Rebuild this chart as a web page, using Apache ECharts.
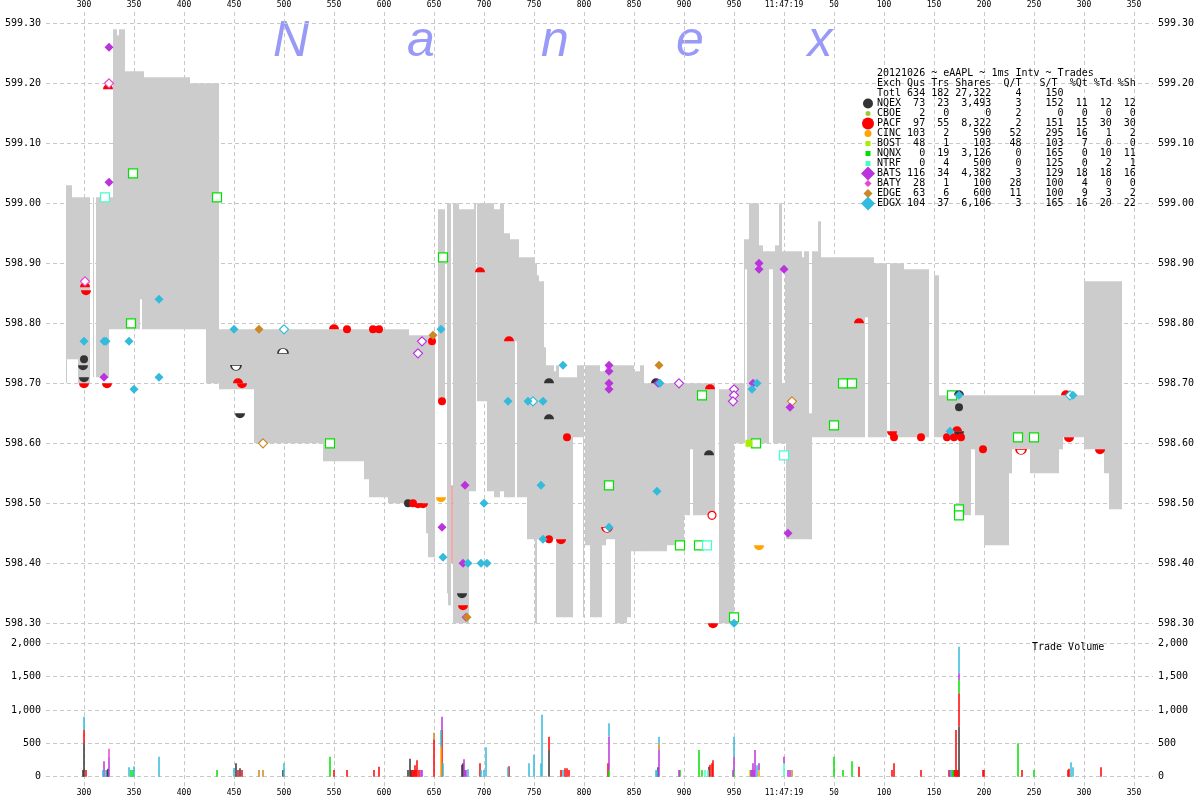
<!DOCTYPE html>
<html><head><meta charset="utf-8">
<script src="https://cdn.jsdelivr.net/npm/echarts@6/dist/echarts.min.js"></script>
<style>html,body{margin:0;padding:0;background:#fff}#c{width:1200px;height:800px}</style>
</head><body><div id="c"></div>
<script>
// ---------- NBBO spread band (ms, price) ----------
const bandStart = [282,283,288,294,309,312,325,329,333,335,341,356,358,360,406,422,435,470,539,580,585,604,625,642,644,654,663,664,669,675,685,690,693,703,710,716,720,726,731,733,735,743,751,753,755,760,762,770,772,775,789,793,799,801,806,816,818,822,831,843,847,850,856,860,883,900,906,909,935,950,960,961,963,965,975,979,985,989,991,995,998,998,1001,1002,1018,1020,1025,1028,1034,1037,1081,1084,1090,1106,1120,1150,1155,1175,1187,1191,1200,1225,1228,1246,1275,1279,1300,1320,1325];
const bandEnd   = [283,288,294,306,310,325,329,333,335,341,356,358,360,406,422,435,470,539,580,585,604,625,642,644,651,661,664,667,675,685,690,692,703,710,716,720,726,731,733,735,743,751,753,755,760,762,770,772,775,789,793,799,800,806,816,818,822,831,843,847,850,856,860,883,900,906,909,931,950,960,961,963,965,975,979,985,989,991,995,998,1001,1001,1002,1018,1020,1025,1028,1034,1037,1081,1084,1090,1103,1120,1145,1155,1175,1187,1191,1200,1225,1228,1246,1275,1279,1300,1320,1325,1338];
const bandLow   = [598.70,598.74,598.74,598.70,598.71,598.71,598.79,598.79,598.79,598.79,598.79,598.84,598.79,598.79,598.79,598.70,598.69,598.60,598.57,598.54,598.51,598.50,598.50,598.45,598.41,598.67,598.35,598.33,598.30,598.30,598.52,598.52,598.67,598.52,598.51,598.52,598.51,598.51,598.77,598.51,598.51,598.44,598.30,598.44,598.44,598.44,598.44,598.44,598.31,598.31,598.61,598.61,598.31,598.43,598.31,598.31,598.43,598.44,598.30,598.31,598.42,598.42,598.42,598.42,598.43,598.48,598.59,598.48,598.30,598.60,598.60,598.89,598.60,598.60,598.60,598.60,598.89,598.60,598.60,598.60,598.89,598.60,598.60,598.44,598.44,598.44,598.44,598.61,598.61,598.61,598.81,598.61,598.61,598.61,598.61,598.61,598.61,598.48,598.59,598.48,598.43,598.55,598.59,598.55,598.59,598.61,598.59,598.55,598.49];
const bandHigh  = [599.03,599.03,599.01,599.01,599.01,599.01,599.01,599.29,599.28,599.29,599.22,599.22,599.22,599.21,599.20,599.20,598.79,598.79,598.79,598.79,598.79,598.79,598.78,598.78,598.78,598.99,599.00,599.00,599.00,598.99,598.99,599.00,599.00,599.00,598.99,599.00,598.95,598.94,598.94,598.94,598.91,598.91,598.90,598.88,598.87,598.76,598.73,598.72,598.73,598.71,598.71,598.73,598.73,598.73,598.73,598.72,598.72,598.73,598.73,598.73,598.73,598.72,598.73,598.70,598.70,598.70,598.70,598.70,598.69,598.70,598.94,598.94,598.94,599.00,598.93,598.92,598.92,598.92,598.93,599.00,598.92,598.70,598.92,598.92,598.91,598.92,598.65,598.92,598.97,598.91,598.91,598.91,598.90,598.90,598.89,598.88,598.68,598.68,598.68,598.68,598.68,598.68,598.68,598.68,598.68,598.68,598.87,598.87,598.87];

// ---------- quotes & trades (ms, price) ----------
const nqexTrade = [[300,598.74],[624,598.50],[1175,598.66]];
const nqexAsk = [[765,598.70],[765,598.64],[872,598.70],[925,598.58],[1175,598.68]];
const nqexBid = [[299,598.73],[300,598.71],[456,598.65],[678,598.35],[1175,598.62]];
const nqexAskHollow = [[499,598.75]];
const nqexBidHollow = [[452,598.73]];
const cincBid = [[657,598.51],[975,598.43]];
const pacfTrade = [[563,598.79],[589,598.79],[595,598.79],[629,598.50],[648,598.77],[658,598.67],[765,598.44],[783,598.61],[1110,598.61],[1137,598.61],[1163,598.61],[1170,598.61],[1177,598.61],[1199,598.59]];
const pacfAsk = [[301,598.86],[324,599.19],[454,598.70],[550,598.79],[696,598.885],[725,598.77],[926,598.69],[1075,598.80],[1173,598.62],[1282,598.68]];
const pacfBid = [[302,598.855],[300,598.70],[323,598.70],[458,598.70],[634,598.50],[639,598.50],[777,598.44],[679,598.33],[929,598.30],[1108,598.62],[1285,598.61],[1316,598.59]];
const pacfBidHollow = [[823,598.46],[1237,598.59]];
const pacfTradeHollow = [[928,598.48]];
const sweepTime = [668], sweepLow = [598.40], sweepHigh = [598.53];
const batsTrade = [[325,599.26],[325,599.035],[320,598.71],[681,598.53],[658,598.46],[679,598.40],[682,598.31],[825,598.73],[825,598.72],[825,598.70],[825,598.69],[874,598.70],[969,598.70],[975,598.90],[975,598.89],[1000,598.89],[1006,598.66],[1004,598.45]];
const batsHollow = [[638,598.77],[634,598.75],[895,598.70],[950,598.69],[950,598.68],[949,598.67]];
const batyHollow = [[301,598.87],[325,599.20]];
const edgeTrade = [[475,598.79],[649,598.78],[875,598.73],[683,598.31]];
const edgeHollow = [[479,598.60],[1008,598.67]];
const edgxTrade = [[300,598.77],[320,598.77],[322,598.77],[345,598.77],[350,598.69],[375,598.84],[375,598.71],[450,598.79],[657,598.79],[659,598.41],[684,598.40],[697,598.40],[703,598.40],[700,598.50],[724,598.67],[744,598.67],[759,598.67],[757,598.53],[759,598.44],[779,598.73],[825,598.46],[873,598.52],[876,598.70],[968,598.69],[973,598.70],[950,598.30],[1175,598.68],[1166,598.62],[1289,598.68]];
const edgxHollow = [[500,598.79],[749,598.67],[1286,598.68]];
const nqnxTrade = [[349,599.05],[347,598.80],[433,599.01],[546,598.60],[659,598.91],[825,598.53],[918,598.68],[896,598.43],[915,598.43],[972,598.60],[950,598.31],[1059,598.70],[1068,598.70],[1050,598.63],[1168,598.68],[1234,598.61],[1250,598.61],[1175,598.49],[1175,598.48]];
const ntrfTrade = [[321,599.01],[1000,598.58],[923,598.43]];
const bostTrade = [[965,598.60]];

// ---------- trade volume (ms, shares) ----------
const volNQEX = [[299,100],[300,500],[323,100],[324,120],[452,200],[456,125],[499,100],[624,100],[626,270],[627,100],[678,180],[679,200],[765,400],[874,140],[925,150],[1175,750]];
const volPACF = [[300,200],[302,100],[454,100],[458,100],[550,100],[563,100],[590,100],[595,150],[628,100],[629,100],[630,100],[631,170],[632,100],[633,245],[635,100],[650,560],[658,700],[696,200],[725,155],[765,200],[777,100],[781,125],[783,125],[785,100],[824,200],[926,180],[928,200],[929,245],[1075,150],[1108,100],[1110,200],[1137,100],[1165,100],[1170,100],[1171,100],[1172,700],[1173,100],[1174,100],[1175,500],[1199,100],[1200,100],[1238,100],[1284,100],[1285,120],[1317,140]];
const volCINC = [[657,450],[975,100]];
const volBOST = [[966,100]];
const volNQNX = [[347,100],[349,100],[433,100],[546,300],[825,100],[896,100],[915,400],[918,100],[950,100],[1050,300],[1059,100],[1068,230],[1168,100],[1169,100],[1175,200],[1234,500],[1250,100]];
const volNTRF = [[921,100],[924,100],[1000,200]];
const volBATS = [[320,230],[325,300],[637,100],[638,100],[658,200],[680,260],[681,100],[682,100],[825,500],[875,400],[895,100],[949,100],[950,200],[967,100],[968,100],[969,200],[970,100],[971,400],[975,100],[1000,100],[1004,100],[1006,100],[1166,100],[1175,100]];
const volBATY = [[325,120]];
const volEDGE = [[475,100],[479,100],[650,100],[875,100],[1008,100]];
const volEDGX = [[300,200],[319,100],[322,100],[345,140],[350,155],[375,300],[450,130],[500,200],[657,250],[659,200],[684,110],[697,100],[700,100],[702,440],[724,140],[745,200],[750,330],[757,200],[758,930],[779,100],[825,200],[872,100],[873,100],[875,100],[950,300],[973,170],[1167,100],[1175,400],[1287,215],[1289,140]];

// ---------- legend table ----------
const legendTitle = '20121026 ~ eAAPL ~ 1ms Intv ~ Trades';
const legendHeader = 'Exch Qus Trs Shares  Q/T   S/T  %Qt %Td %Sh';
const totlRow = ['Totl',634,182,'27,322',4,150,'','',''];
const legendExch = ['NQEX','CBOE','PACF','CINC','BOST','NQNX','NTRF','BATS','BATY','EDGE','EDGX'];
const legendQus = [73,2,97,103,48,0,0,116,28,63,104];
const legendTrs = [23,0,55,2,1,19,4,34,1,6,37];
const legendShares = ['3,493','0','8,322','590','103','3,126','500','4,382','100','600','6,106'];
const legendQT = [3,2,2,52,48,0,0,3,28,11,3];
const legendST = [152,0,151,295,103,165,125,129,100,100,165];
const legendPQt = [11,0,15,16,7,0,0,18,4,9,16];
const legendPTd = [12,0,30,1,0,10,2,18,0,3,20];
const legendPSh = [12,0,30,2,0,11,1,16,0,2,22];

const priceTicks = {min:598.3, max:599.3, step:0.1};
const volTicks = {min:0, max:2000, step:500};
const timeTicks = {min:300, max:1350, step:50, secondMark:1000, secondLabel:'11:47:19'};
const watermark = ['N','a','n','e','x'];

// ---------- styling ----------
const COL = {NQEX:'#333333', CBOE:'#99cc33', PACF:'#ff0000', CINC:'#ffa500', BOST:'#aaee00', NQNX:'#00e000', NTRF:'#44ffcc', BATS:'#bb33dd', BATY:'#ee44cc', EDGE:'#cc8822', EDGX:'#33bbdd'};
const MONO = '"DejaVu Sans Mono", monospace';
const DOME = 'path://M0,10A10,10,0,0,1,20,10Z';
const BOWL = 'path://M0,0A10,10,0,0,0,20,0Z';
const gridLine = {show:true, lineStyle:{color:'#c8c8c8', type:[4,3], width:1}};

function sc(data, sym, size, color, hollow, offset, z) {
  return {type:'scatter', xAxisIndex:0, yAxisIndex:0, data, symbol:sym, symbolSize:size,
    symbolOffset: offset || [0,0], silent:true, z: z || 5, animation:false, clip:false,
    itemStyle: hollow ? {color:'#ffffff', borderColor:color, borderWidth:1.2, opacity:1} : {color, borderWidth:0, opacity:1}};
}

// volume stacking
const volOrder = [['NQEX',volNQEX],['PACF',volPACF],['CINC',volCINC],['BOST',volBOST],['NQNX',volNQNX],['NTRF',volNTRF],['BATS',volBATS],['BATY',volBATY],['EDGE',volEDGE],['EDGX',volEDGX]];
const acc = {};
const volSegs = [];
volOrder.forEach(([ex, arr]) => {
  arr.forEach(([t, v]) => {
    const b = acc[t] || 0;
    volSegs.push([t, b, b + v, ex]);
    acc[t] = b + v;
  });
});

const bandData = bandStart.map((s, i) => [s, bandEnd[i], bandLow[i], bandHigh[i]]);
const sweepData = sweepTime.map((t, i) => [t, sweepLow[i], sweepHigh[i]]);

const series = [
  {type:'custom', xAxisIndex:0, yAxisIndex:0, data:bandData, silent:true, z:1, animation:false,
   encode:{x:[0,1], y:[2,3]},
   renderItem(params, api) {
     const p1 = api.coord([api.value(0), api.value(3)]);
     const p2 = api.coord([api.value(1), api.value(2)]);
     return {type:'rect', shape:{x:p1[0], y:p1[1], width:p2[0]-p1[0], height:p2[1]-p1[1]}, style:{fill:'#cccccc'}};
   }},
  {type:'custom', xAxisIndex:2, yAxisIndex:3, data:volSegs, silent:true, z:2, animation:false,
   encode:{x:0, y:[1,2]},
   renderItem(params, api) {
     const d = volSegs[params.dataIndex];
     const p1 = api.coord([d[0], d[2]]);
     const p2 = api.coord([d[0], d[1]]);
     return {type:'rect', shape:{x:p1[0]-0.75, y:p1[1], width:1.5, height:p2[1]-p1[1]}, style:{fill:COL[d[3]]}};
   }},
  {type:'custom', xAxisIndex:0, yAxisIndex:0, data:sweepData, silent:true, z:3, animation:false,
   encode:{x:0, y:[1,2]},
   renderItem(params, api) {
     const a = api.coord([api.value(0), api.value(1)]);
     const b = api.coord([api.value(0), api.value(2)]);
     return {type:'line', shape:{x1:a[0], y1:a[1], x2:b[0], y2:b[1]}, style:{stroke:'#ee5555', lineWidth:1}};
   }},
  sc(nqnxTrade,'rect',9,COL.NQNX,true,null,4),
  sc(ntrfTrade,'rect',9,COL.NTRF,true,null,4),
  sc(bostTrade,'rect',7,COL.BOST,false,null,4),
  sc(nqexAsk,DOME,[10,5],COL.NQEX,false,[0,-2.5],5),
  sc(nqexBid,BOWL,[10,5],COL.NQEX,false,[0,2.5],5),
  sc(nqexAskHollow,DOME,[10,5],COL.NQEX,true,[0,-2.5],5),
  sc(nqexBidHollow,BOWL,[10,5],COL.NQEX,true,[0,2.5],5),
  sc(cincBid,BOWL,[10,5],COL.CINC,false,[0,2.5],5),
  sc(pacfAsk,DOME,[10,5],COL.PACF,false,[0,-2.5],5),
  sc(pacfBid,BOWL,[10,5],COL.PACF,false,[0,2.5],5),
  sc(pacfBidHollow,BOWL,[10,5],COL.PACF,true,[0,2.5],5),
  sc(nqexTrade,'circle',8,COL.NQEX,false,null,6),
  sc(pacfTrade,'circle',8,COL.PACF,false,null,6),
  sc(pacfTradeHollow,'circle',8,COL.PACF,true,null,6),
  sc(batsHollow,'diamond',9,COL.BATS,true,null,6),
  sc(batyHollow,'diamond',9,COL.BATY,true,null,6),
  sc(edgeHollow,'diamond',9,COL.EDGE,true,null,6),
  sc(edgxHollow,'diamond',9,COL.EDGX,true,null,6),
  sc(batsTrade,'diamond',9,COL.BATS,false,null,7),
  sc(edgeTrade,'diamond',9,COL.EDGE,false,null,7),
  sc(edgxTrade,'diamond',9,COL.EDGX,false,null,7)
];

// graphics: watermark, legend table, volume label
const graphics = [];
const wmX = [291, 421, 555, 690, 820];
watermark.forEach((ch, i) => graphics.push({type:'text', x:wmX[i], y:42, z:0, silent:true,
  style:{text:ch, font:'italic 50px "Liberation Sans", Arial, sans-serif', fill:'#9999f8', align:'center', verticalAlign:'middle'}}));

function row(c) {
  return String(c[0]) + String(c[1]).padStart(4) + String(c[2]).padStart(4) + String(c[3]).padStart(7) +
    String(c[4]).padStart(5) + String(c[5]).padStart(7) + String(c[6]).padStart(4) + String(c[7]).padStart(4) + String(c[8]).padStart(4);
}
const lines = [legendTitle, legendHeader, row(totlRow)];
legendExch.forEach((e, i) => lines.push(row([e, legendQus[i], legendTrs[i], legendShares[i], legendQT[i], legendST[i], legendPQt[i], legendPTd[i], legendPSh[i]])));
lines.forEach((s, i) => graphics.push({type:'text', x:877, y:73.5 + i*10, z:50, silent:true,
  style:{text:s, font:'10px ' + MONO, fill:'#000', align:'left', verticalAlign:'middle'}}));

const mk = [['circle',5],['circle',2.5],['circle',6],['circle',3.5],['rect',2.5],['rect',2.5],['rect',2.5],['diamond',7],['diamond',3.5],['diamond',4.5],['diamond',7]];
legendExch.forEach((e, i) => {
  const cx = 868, cy = 103.5 + i*10, [k, r] = mk[i], fill = COL[e];
  if (k === 'circle') graphics.push({type:'circle', z:51, silent:true, shape:{cx, cy, r}, style:{fill}});
  else if (k === 'rect') graphics.push({type:'rect', z:51, silent:true, shape:{x:cx-r, y:cy-r, width:2*r, height:2*r}, style:{fill}});
  else graphics.push({type:'polygon', z:51, silent:true, shape:{points:[[cx,cy-r],[cx+r,cy],[cx,cy+r],[cx-r,cy]]}, style:{fill}});
});
graphics.push({type:'text', x:1032, y:647.5, z:50, silent:true,
  style:{text:'Trade Volume', font:'10px ' + MONO, fill:'#000', align:'left', verticalAlign:'middle'}});

const yLab = {fontFamily:MONO, fontSize:10, color:'#000', margin:5};
const xLab = {fontFamily:MONO, fontSize:8, color:'#000',
  formatter: v => v === timeTicks.secondMark ? timeTicks.secondLabel : String(v > timeTicks.secondMark ? v - timeTicks.secondMark : v)};
const hidden = {show:false};
const noLine = {axisLine:{show:false}, axisTick:{show:false}};

const option = {
  animation:false,
  backgroundColor:'#ffffff',
  grid:[
    {left:46, right:47, top:11.3, height:624},       // price data
    {left:46, right:47, top:23.3, height:600},       // price horizontal lines
    {left:46, right:47, top:643.3, height:133.4},    // volume
    {left:84, right:66, top:12, height:775}          // vertical time lines
  ],
  xAxis:[
    {gridIndex:0, type:'value', min:262, max:1369, show:false},
    {gridIndex:1, type:'value', min:0, max:1, show:false},
    {gridIndex:2, type:'value', min:262, max:1369, show:false},
    Object.assign({gridIndex:3, type:'value', position:'top', min:timeTicks.min, max:timeTicks.max, interval:timeTicks.step,
      splitLine:gridLine, axisLabel:Object.assign({margin:3}, xLab)}, noLine),
    Object.assign({gridIndex:3, type:'value', position:'bottom', min:timeTicks.min, max:timeTicks.max, interval:timeTicks.step,
      splitLine:{show:false}, axisLabel:Object.assign({margin:2}, xLab)}, noLine)
  ],
  yAxis:[
    {gridIndex:0, type:'value', min:598.28, max:599.32, show:false},
    Object.assign({gridIndex:1, type:'value', position:'left', min:priceTicks.min, max:priceTicks.max, interval:priceTicks.step,
      splitLine:gridLine, axisLabel:Object.assign({formatter: v => v.toFixed(2)}, yLab)}, noLine),
    Object.assign({gridIndex:1, type:'value', position:'right', min:priceTicks.min, max:priceTicks.max, interval:priceTicks.step,
      splitLine:{show:false}, axisLabel:Object.assign({formatter: v => v.toFixed(2)}, yLab)}, noLine),
    Object.assign({gridIndex:2, type:'value', position:'left', min:volTicks.min, max:volTicks.max, interval:volTicks.step,
      splitLine:gridLine, axisLabel:Object.assign({formatter: v => v.toLocaleString('en-US')}, yLab)}, noLine),
    Object.assign({gridIndex:2, type:'value', position:'right', min:volTicks.min, max:volTicks.max, interval:volTicks.step,
      splitLine:{show:false}, axisLabel:Object.assign({formatter: v => v.toLocaleString('en-US')}, yLab)}, noLine),
    {gridIndex:3, type:'value', min:0, max:1, show:false}
  ],
  graphic: graphics,
  series
};
const chart = echarts.init(document.getElementById('c'), null, {renderer:'canvas'});
chart.setOption(option);
</script>
</body></html>
